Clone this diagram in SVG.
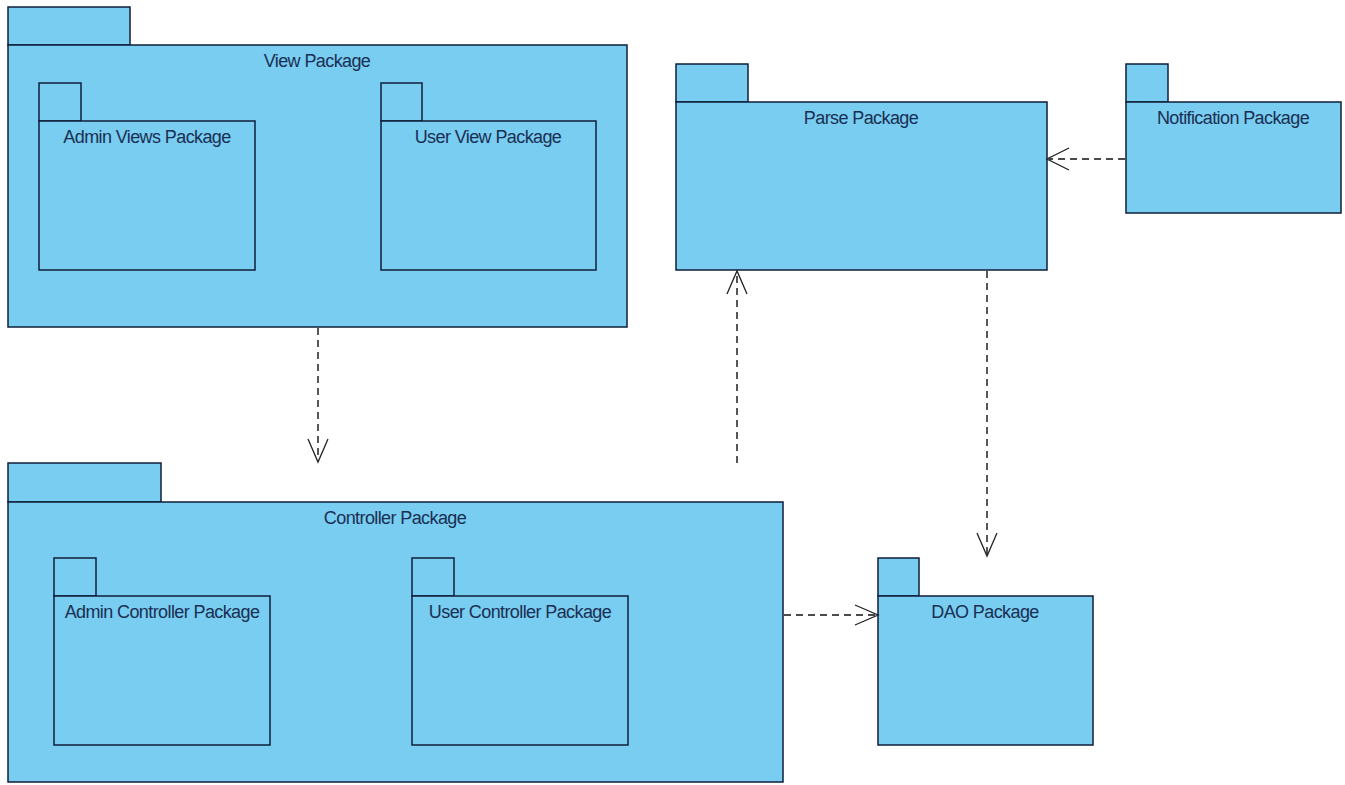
<svg xmlns="http://www.w3.org/2000/svg" width="1345" height="785" viewBox="0 0 1345 785">
  <style>
    .pkg { fill: #78CDF1; stroke: #0F1E3A; stroke-width: 1.5; }
    .lbl { font-family: "Liberation Sans", Arial, sans-serif; font-size: 18px; fill: #1B2F52; text-anchor: middle; letter-spacing: -0.6px; }
    .dep { fill: none; stroke: #111; stroke-width: 1.4; stroke-dasharray: 7 5; }
    .head { fill: none; stroke: #222; stroke-width: 1.3; }
  </style>
  <rect width="1345" height="785" fill="#ffffff"/>

  <!-- View Package -->
  <g id="view-package">
    <rect class="pkg" x="8" y="7" width="122" height="38"/>
    <rect class="pkg" x="8" y="45" width="619" height="282"/>
    <text class="lbl" x="317" y="67">View Package</text>
  </g>
  <g id="admin-views-package">
    <rect class="pkg" x="39" y="83" width="42" height="38"/>
    <rect class="pkg" x="39" y="121" width="216" height="149"/>
    <text class="lbl" x="147" y="143">Admin Views Package</text>
  </g>
  <g id="user-view-package">
    <rect class="pkg" x="381" y="83" width="41" height="38"/>
    <rect class="pkg" x="381" y="121" width="215" height="149"/>
    <text class="lbl" x="488" y="143">User View Package</text>
  </g>

  <!-- Parse Package -->
  <g id="parse-package">
    <rect class="pkg" x="676" y="64" width="72" height="38"/>
    <rect class="pkg" x="676" y="102" width="371" height="168"/>
    <text class="lbl" x="861" y="124">Parse Package</text>
  </g>

  <!-- Notification Package -->
  <g id="notification-package">
    <rect class="pkg" x="1126" y="64" width="42" height="38"/>
    <rect class="pkg" x="1126" y="102" width="215" height="111"/>
    <text class="lbl" x="1233" y="124">Notification Package</text>
  </g>

  <!-- Controller Package -->
  <g id="controller-package">
    <rect class="pkg" x="8" y="463" width="153" height="39"/>
    <rect class="pkg" x="8" y="502" width="775" height="280"/>
    <text class="lbl" x="395" y="524">Controller Package</text>
  </g>
  <g id="admin-controller-package">
    <rect class="pkg" x="54" y="558" width="42" height="38"/>
    <rect class="pkg" x="54" y="596" width="216" height="149"/>
    <text class="lbl" x="162" y="618">Admin Controller Package</text>
  </g>
  <g id="user-controller-package">
    <rect class="pkg" x="412" y="558" width="42" height="38"/>
    <rect class="pkg" x="412" y="596" width="216" height="149"/>
    <text class="lbl" x="520" y="618">User Controller Package</text>
  </g>

  <!-- DAO Package -->
  <g id="dao-package">
    <rect class="pkg" x="878" y="558" width="41" height="38"/>
    <rect class="pkg" x="878" y="596" width="215" height="149"/>
    <text class="lbl" x="985" y="618">DAO Package</text>
  </g>

  <!-- Dependencies -->
  <g id="connectors">
    <!-- View -> Controller -->
    <line class="dep" x1="318" y1="328" x2="318" y2="460"/>
    <polyline class="head" points="308,439 318,462 328,439"/>
    <!-- Controller -> Parse -->
    <line class="dep" x1="737" y1="463" x2="737" y2="273"/>
    <polyline class="head" points="727,294 737,271 747,294"/>
    <!-- Parse -> DAO -->
    <line class="dep" x1="987" y1="271" x2="987" y2="554"/>
    <polyline class="head" points="977,533 987,556 997,533"/>
    <!-- Notification -> Parse -->
    <line class="dep" x1="1125" y1="159" x2="1049" y2="159"/>
    <polyline class="head" points="1069,148 1047,159 1069,170"/>
    <!-- Controller -> DAO -->
    <line class="dep" x1="784" y1="615" x2="876" y2="615"/>
    <polyline class="head" points="855,605 878,615 855,625"/>
  </g>
</svg>
